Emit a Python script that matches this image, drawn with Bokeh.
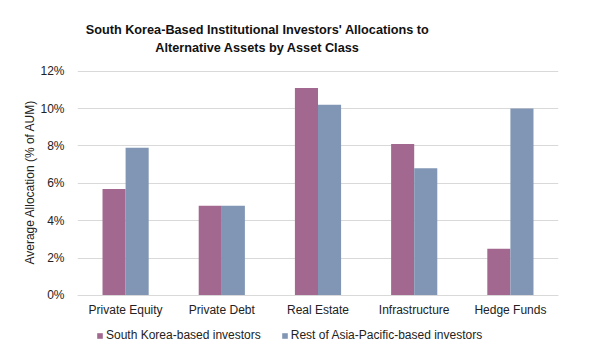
from bokeh.plotting import figure
from bokeh.models import ColumnDataSource, FixedTicker, PrintfTickFormatter, Label, Legend, LegendItem
from bokeh.transform import dodge
from bokeh.embed import file_html
from bokeh.resources import INLINE

categories = ["Private Equity", "Private Debt", "Real Estate", "Infrastructure", "Hedge Funds"]
south_korea = [5.7, 4.8, 11.1, 8.1, 2.5]
rest_apac = [7.9, 4.8, 10.2, 6.8, 10.0]
y_ticks = [0, 2, 4, 6, 8, 10, 12]
series_names = ["South Korea-based investors", "Rest of Asia-Pacific-based investors"]
title_lines = ["South Korea-Based Institutional Investors' Allocations to",
               "Alternative Assets by Asset Class"]

FONT = "Liberation Sans"
PINK = "#a2688f"
BLUE = "#8196b4"
GRID = "#d9d9d9"
TXT = "#222222"

src = ColumnDataSource(dict(cat=categories, sk=south_korea, ra=rest_apac))

# frame spans the whole height; the visible value axis runs 0..12
p = figure(x_range=categories, y_range=(-3.64, 15.78), width=590, height=363,
           output_backend="svg", toolbar_location=None,
           min_border_left=77, min_border_right=32, min_border_top=0, min_border_bottom=0)
p.title = None
p.outline_line_color = None

r1 = p.vbar(x=dodge("cat", -0.12, range=p.x_range), top="sk", width=0.24, source=src,
            fill_color=PINK, line_color=None)
r2 = p.vbar(x=dodge("cat", 0.12, range=p.x_range), top="ra", width=0.24, source=src,
            fill_color=BLUE, line_color=None)

ticker = FixedTicker(ticks=y_ticks)
p.xgrid.grid_line_color = None
p.ygrid.ticker = ticker
p.ygrid.grid_line_color = GRID
p.ygrid.grid_line_width = 1

p.yaxis.ticker = ticker
p.yaxis.formatter = PrintfTickFormatter(format="%d%%")
p.yaxis.axis_line_color = None
p.yaxis.major_tick_line_color = None
p.yaxis.minor_tick_line_color = None
p.yaxis.major_label_standoff = 7
p.yaxis.major_label_text_font = FONT
p.yaxis.major_label_text_font_size = "12px"
p.yaxis.major_label_text_color = TXT
p.yaxis.axis_label = "Average Allocation (% of AUM)"
p.yaxis.axis_label_text_font = FONT
p.yaxis.axis_label_text_font_size = "12px"
p.yaxis.axis_label_text_font_style = "normal"
p.yaxis.axis_label_text_color = TXT
p.yaxis.axis_label_standoff = 0

p.xaxis.fixed_location = 0
p.xaxis.axis_line_color = GRID
p.xaxis.major_tick_line_color = None
p.xaxis.minor_tick_line_color = None
p.xaxis.major_label_standoff = 2
p.xaxis.major_label_text_font = FONT
p.xaxis.major_label_text_font_size = "12px"
p.xaxis.major_label_text_color = TXT

# Title (two centered lines)
for txt, yy in zip(title_lines, [14.18, 13.22]):
    p.add_layout(Label(x=1.871, y=yy, text=txt, text_align="center", text_baseline="middle",
                       text_font=FONT, text_font_size="12.7px", text_font_style="bold",
                       text_color="#111111"))

legend = Legend(items=[LegendItem(label=series_names[0], renderers=[r1]),
                       LegendItem(label=series_names[1], renderers=[r2])],
                orientation="horizontal", location=(19, 21),
                glyph_width=7, glyph_height=7, label_standoff=3, spacing=20,
                padding=0, margin=0, border_line_color=None, background_fill_alpha=0,
                label_text_font=FONT, label_text_font_size="12px", label_text_color=TXT)
p.add_layout(legend, "center")

open("out.html", "w").write(file_html(p, INLINE))
